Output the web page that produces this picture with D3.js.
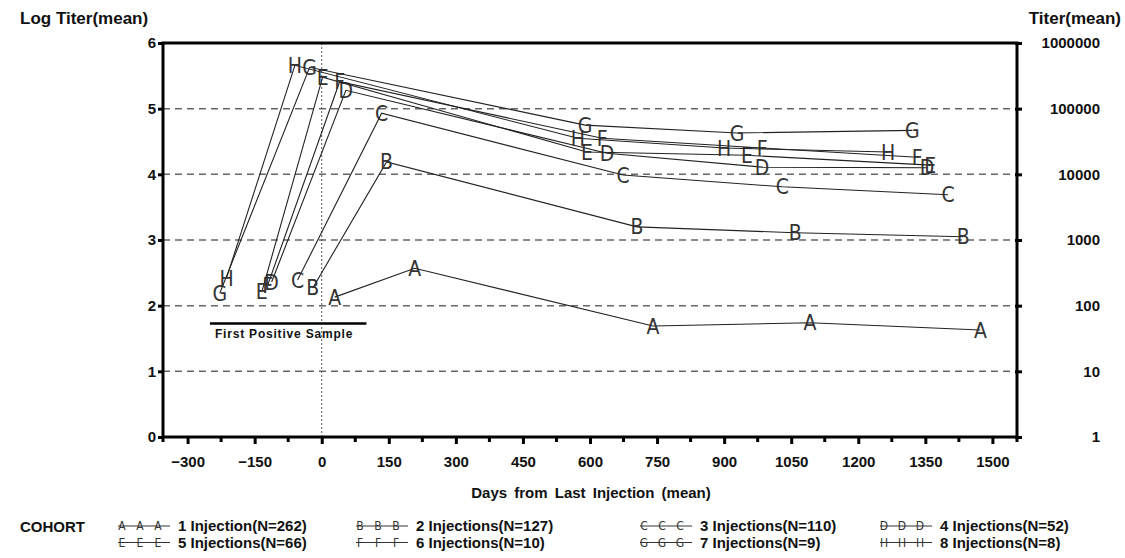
<!DOCTYPE html>
<html>
<head>
<meta charset="utf-8">
<script src="https://cdn.jsdelivr.net/npm/d3@7"></script>
<style>
  body { margin: 0; background: #fff; }
  text { font-family: "Liberation Sans", Arial, sans-serif; font-weight: bold; fill: #111; }
  .sym { font-family: "Liberation Sans Narrow", "DejaVu Sans Condensed", sans-serif; font-weight: normal; fill: #333; }
</style>
</head>
<body>
<script>
// cohort letters and legend labels
var letters = ["A", "B", "C", "D", "E", "F", "G", "H"];
var cohortLabels = ["1 Injection(N=262)", "2 Injections(N=127)", "3 Injections(N=110)", "4 Injections(N=52)",
                    "5 Injections(N=66)", "6 Injections(N=10)", "7 Injections(N=9)", "8 Injections(N=8)"];

// mean days from last injection, per cohort
var daysA = [29, 208, 741, 1092, 1473];
var daysB = [-20, 145, 705, 1059, 1435];
var daysC = [-54, 134, 674, 1030, 1401];
var daysD = [-112, 54, 638, 985, 1354];
var daysE = [-134, 2, 593, 951, 1361];
var daysF = [-121, 40, 627, 985, 1332];
var daysG = [-228, -27, 589, 929, 1321];
var daysH = [-213, -60, 573, 900, 1267];

// mean log titer, per cohort
var logA = [2.13, 2.57, 1.69, 1.74, 1.63];
var logB = [2.27, 4.19, 3.20, 3.11, 3.05];
var logC = [2.39, 4.93, 3.99, 3.81, 3.69];
var logD = [2.36, 5.28, 4.32, 4.11, 4.10];
var logE = [2.21, 5.48, 4.34, 4.29, 4.14];
var logF = [2.31, 5.41, 4.55, 4.40, 4.26];
var logG = [2.19, 5.63, 4.75, 4.63, 4.67];
var logH = [2.42, 5.66, 4.55, 4.40, 4.34];

// axes
var xTicks = [-300, -150, 0, 150, 300, 450, 600, 750, 900, 1050, 1200, 1350, 1500];
var xMinor = [-225, -75, 75, 225, 375, 525, 675, 825, 975, 1125, 1275, 1425];
var yTicks = [0, 1, 2, 3, 4, 5, 6];
var titerTicks = [1, 10, 100, 1000, 10000, 100000, 1000000];

// first positive sample bar (days, log titer)
var firstPos = [-250, 100];
var firstPosY = 1.73;

var allDays = [daysA, daysB, daysC, daysD, daysE, daysF, daysG, daysH];
var allLog = [logA, logB, logC, logD, logE, logF, logG, logH];

window.onload = draw();

function draw(){
    var width = 1125, height = 558;
    var left = 163, right = 1017, top = 43, bottom = 437;

    var svg = d3.select("body").append("svg")
        .attr("width", width)
        .attr("height", height);

    var x = d3.scaleLinear().domain([-355, 1555]).range([left, right]);
    var y = d3.scaleLinear().domain([0, 6]).range([bottom, top]);
    var yR = d3.scaleLog().domain([1, 1e6]).range([bottom, top]);

    // dashed gridlines
    svg.selectAll(".grid")
        .data(yTicks.filter(function(d){ return d > 0 && d < 6; }))
        .enter().append("line")
        .attr("x1", left).attr("x2", right)
        .attr("y1", function(d){ return y(d); })
        .attr("y2", function(d){ return y(d); })
        .attr("stroke", "#666").attr("stroke-width", 1.5)
        .attr("stroke-dasharray", "7,5");

    // reference at day 0
    svg.append("line")
        .attr("x1", x(0)).attr("x2", x(0))
        .attr("y1", top).attr("y2", bottom)
        .attr("stroke", "#555").attr("stroke-width", 1)
        .attr("stroke-dasharray", "2,2");

    // first positive sample
    svg.append("line")
        .attr("x1", x(firstPos[0])).attr("x2", x(firstPos[1]))
        .attr("y1", y(firstPosY)).attr("y2", y(firstPosY))
        .attr("stroke", "#000").attr("stroke-width", 2.5);
    svg.append("text")
        .attr("x", x(firstPos[0]) + 5).attr("y", y(firstPosY) + 15)
        .style("font-size", "12px").style("letter-spacing", "0.8px")
        .text("First Positive Sample");

    // cohort lines
    var line = d3.line()
        .x(function(d){ return x(d[0]); })
        .y(function(d){ return y(d[1]); });

    letters.forEach(function(L, i){
        var pts = d3.zip(allDays[i], allLog[i]);
        svg.append("path")
            .datum(pts)
            .attr("d", line)
            .attr("fill", "none")
            .attr("stroke", "#222")
            .attr("stroke-width", 1.1);
        svg.selectAll(".pt" + L)
            .data(pts)
            .enter().append("text")
            .attr("class", "sym")
            .attr("x", function(d){ return x(d[0]); })
            .attr("y", function(d){ return y(d[1]); })
            .attr("dy", "0.36em")
            .attr("text-anchor", "middle")
            .style("font-size", "21px")
            .text(L);
    });

    // frame
    svg.append("rect")
        .attr("x", left).attr("y", top)
        .attr("width", right - left).attr("height", bottom - top)
        .attr("fill", "none").attr("stroke", "#000").attr("stroke-width", 3);

    // bottom axis
    var xAxis = d3.axisBottom(x).tickValues(xTicks).tickSize(7).tickPadding(12)
        .tickFormat(d3.format("d"));
    var gx = svg.append("g").attr("transform", "translate(0," + bottom + ")").call(xAxis);
    gx.select(".domain").remove();
    gx.selectAll(".tick line").attr("stroke-width", 3);
    gx.selectAll(".tick text").style("font-size", "15px").style("font-family", "Liberation Sans, Arial, sans-serif").style("font-weight", "bold");
    svg.selectAll(".xminor")
        .data(xMinor.concat(x.domain()))
        .enter().append("line")
        .attr("x1", function(d){ return x(d); }).attr("x2", function(d){ return x(d); })
        .attr("y1", bottom).attr("y2", bottom + 5)
        .attr("stroke", "#000").attr("stroke-width", 3);

    // left axis
    var yAxis = d3.axisLeft(y).tickValues(yTicks).tickSize(5).tickPadding(2)
        .tickFormat(d3.format("d"));
    var gy = svg.append("g").attr("transform", "translate(" + left + ",0)").call(yAxis);
    gy.select(".domain").remove();
    gy.selectAll(".tick line").attr("stroke-width", 3);
    gy.selectAll(".tick text").style("font-size", "15px").style("font-family", "Liberation Sans, Arial, sans-serif").style("font-weight", "bold");

    // right axis (titer)
    var yAxisR = d3.axisRight(yR).tickValues(titerTicks).tickSize(5).tickPadding(0)
        .tickFormat(d3.format("d"));
    var gr = svg.append("g").attr("transform", "translate(" + right + ",0)").call(yAxisR);
    gr.select(".domain").remove();
    gr.selectAll(".tick line").attr("x1", -2).attr("stroke-width", 3);
    gr.selectAll(".tick text")
        .attr("x", 1100 - right).attr("text-anchor", "end")
        .style("font-size", "15px").style("font-family", "Liberation Sans, Arial, sans-serif").style("font-weight", "bold");

    // titles
    svg.append("text").attr("x", 20).attr("y", 24).style("font-size", "17px").text("Log Titer(mean)");
    svg.append("text").attr("x", 1121).attr("y", 24).attr("text-anchor", "end").style("font-size", "17px").text("Titer(mean)");
    svg.append("text").attr("x", 591).attr("y", 498).attr("text-anchor", "middle")
        .style("font-size", "15px").style("word-spacing", "3px")
        .text("Days from Last Injection (mean)");

    // legend
    svg.append("text").attr("x", 20).attr("y", 532).style("font-size", "15px").text("COHORT");
    var colX = [118, 356, 640, 880];
    var leg = svg.selectAll(".leg")
        .data(cohortLabels)
        .enter().append("g")
        .attr("transform", function(d, i){
            return "translate(" + colX[i % 4] + "," + (526 + Math.floor(i / 4) * 16.5) + ")";
        });
    leg.append("line")
        .attr("x1", 0).attr("x2", 52).attr("y1", 0).attr("y2", 0)
        .attr("stroke", "#333").attr("stroke-width", 1);
    [4, 22, 40].forEach(function(off){
        leg.append("text")
            .attr("class", "sym")
            .attr("x", off).attr("dy", "0.36em")
            .attr("text-anchor", "middle")
            .style("font-size", "12px")
            .text(function(d, i){ return letters[i]; });
    });
    leg.append("text")
        .attr("x", 60).attr("dy", "0.36em")
        .style("font-size", "15px")
        .text(function(d){ return d; });
}
</script>
</body>
</html>
